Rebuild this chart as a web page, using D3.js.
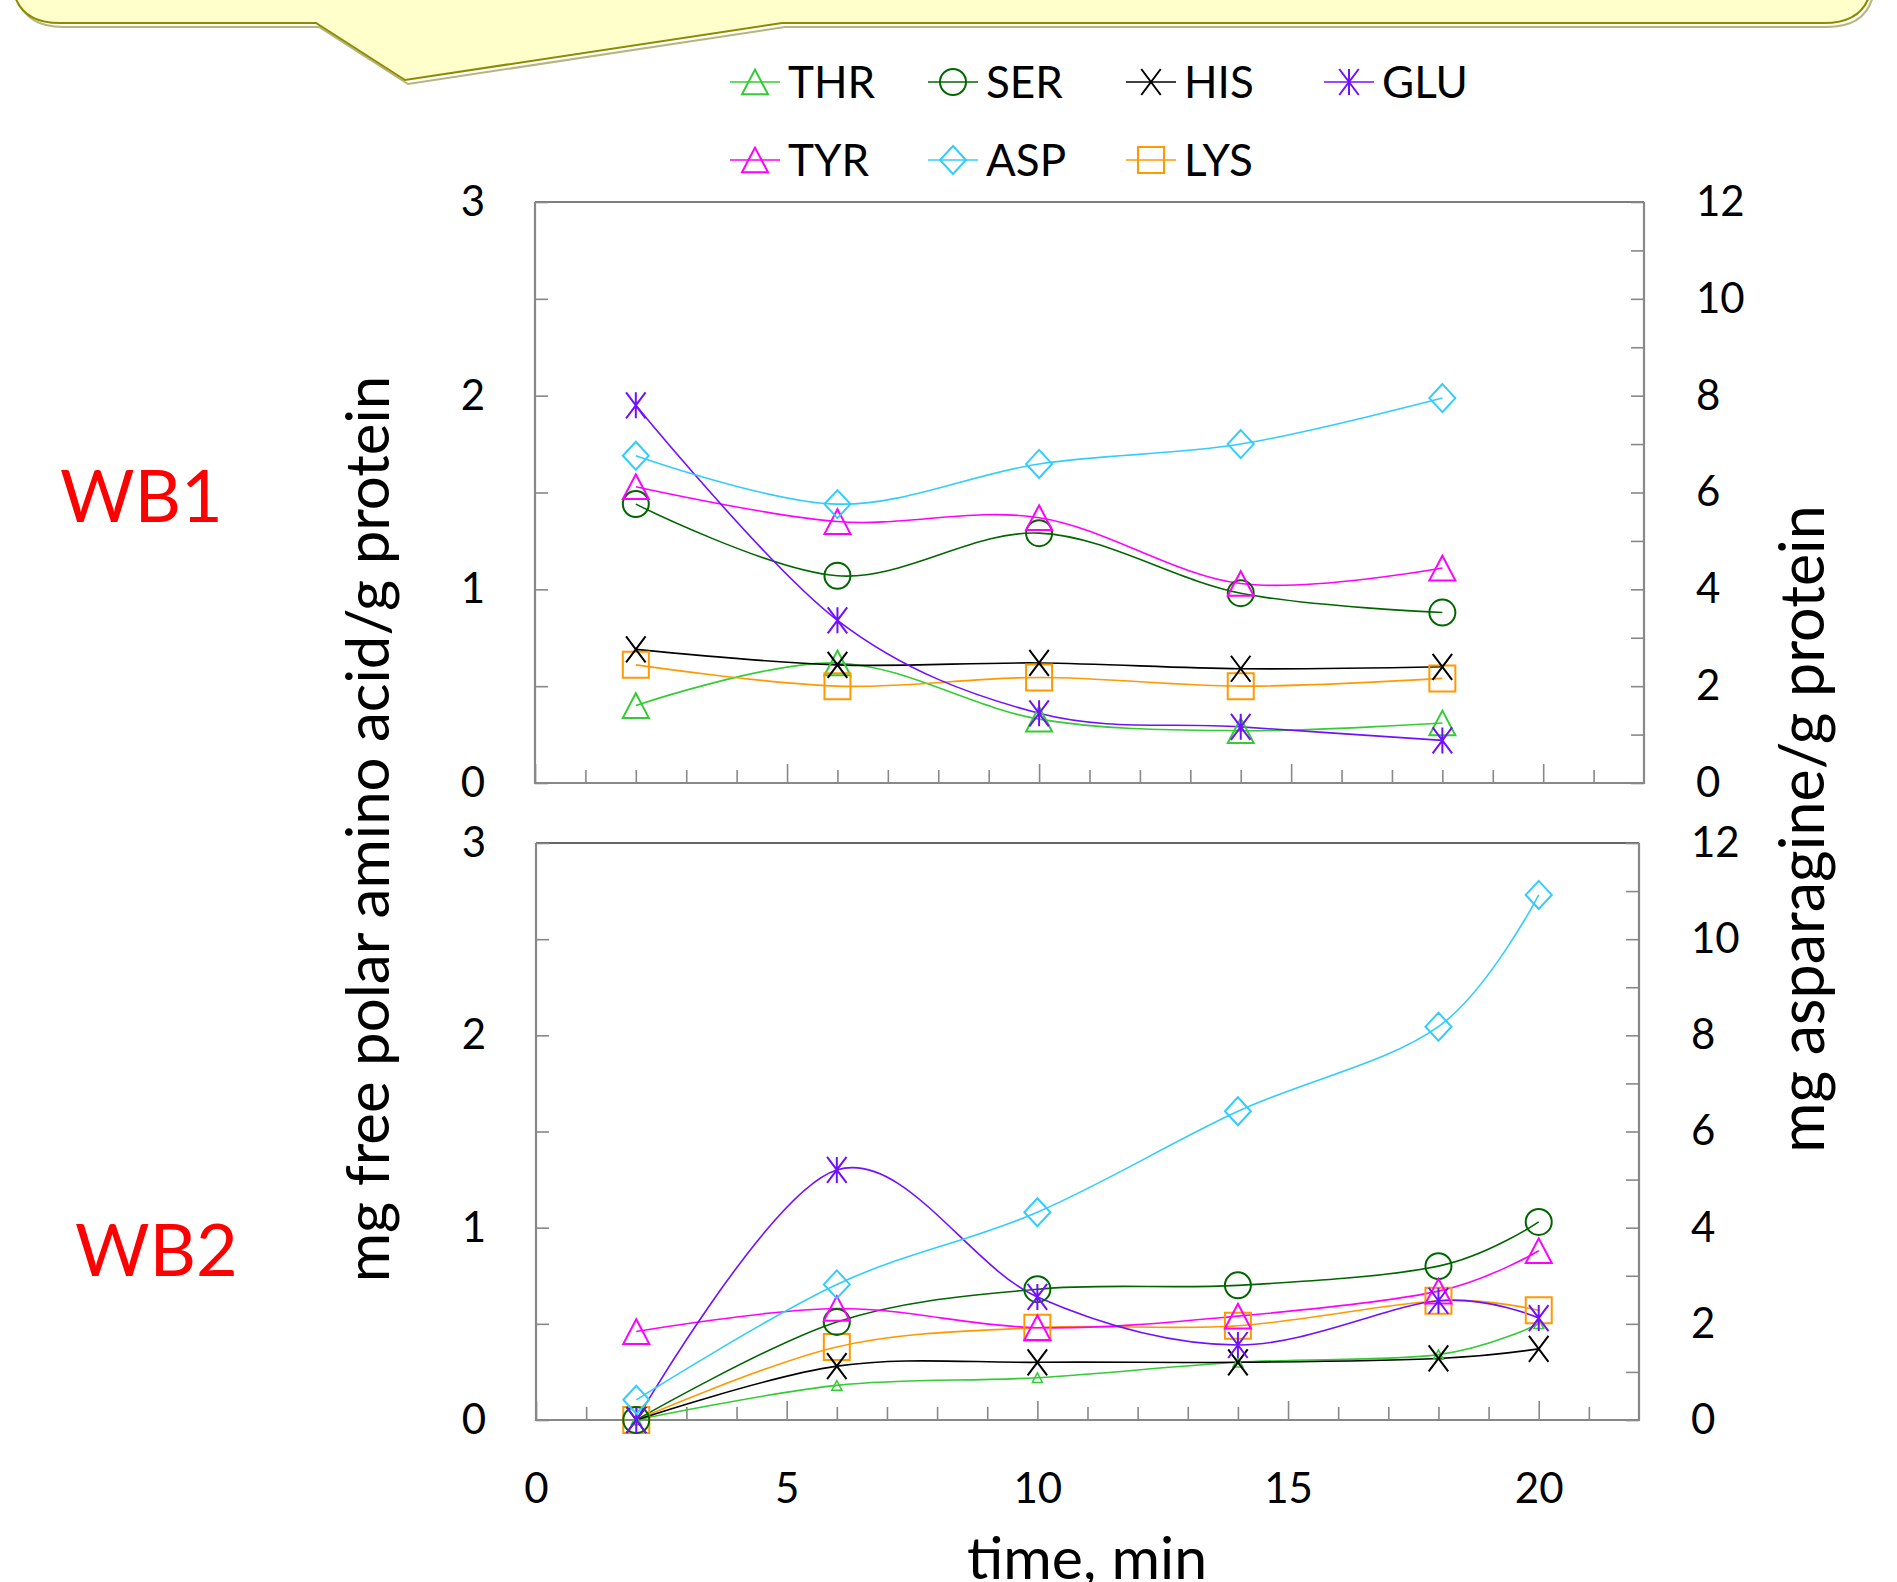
<!DOCTYPE html>
<html>
<head>
<meta charset="utf-8">
<script src="https://cdn.jsdelivr.net/npm/d3@7"></script>
<style>
  body { margin: 0; background: #fff; }
  svg text { font-family: Lato, 'Open Sans', sans-serif; }
</style>
</head>
<body>
<svg id="canvas"></svg>
<script>
var width = 1897,
  height = 1582;

// DATA
var seriesNames = ['THR', 'SER', 'HIS', 'GLU', 'TYR', 'ASP', 'LYS'];
var timesWB1 = [2, 6, 10, 14, 18];
var timesWB2 = [2, 6, 10, 14, 18, 20];

// WB1, mg free amino acid / g protein (left axis)
var wb1Thr = [0.40, 0.62, 0.33, 0.27, 0.31];
var wb1Ser = [1.44, 1.07, 1.29, 0.98, 0.88];
var wb1His = [0.69, 0.61, 0.62, 0.59, 0.60];
var wb1Glu = [1.95, 0.84, 0.36, 0.29, 0.22];
var wb1Tyr = [1.53, 1.35, 1.37, 1.03, 1.11];
var wb1Lys = [0.61, 0.50, 0.545, 0.50, 0.54];
// WB1, mg asparagine / g protein (right axis)
var wb1Asp = [6.76, 5.76, 6.59, 7.0, 7.95];

// WB2
var wb2Thr = [0, 0.18, 0.22, 0.30, 0.34, 0.50];
var wb2Ser = [0, 0.51, 0.68, 0.70, 0.80, 1.03];
var wb2His = [0, 0.28, 0.30, 0.30, 0.32, 0.37];
var wb2Glu = [0, 1.30, 0.64, 0.39, 0.62, 0.53];
var wb2Tyr = [0.46, 0.58, 0.48, 0.54, 0.67, 0.88];
var wb2Lys = [0, 0.38, 0.48, 0.49, 0.62, 0.57];
var wb2Asp = [0.42, 2.82, 4.32, 6.42, 8.18, 10.92];

var xTickLabels = [0, 5, 10, 15, 20];
var leftTickLabels = [0, 1, 2, 3];
var rightTickLabels = [0, 2, 4, 6, 8, 10, 12];

var colors = {
  THR: '#33cc33', SER: '#006600', HIS: '#000000', GLU: '#7010ff',
  TYR: '#ff00ff', ASP: '#33ccff', LYS: '#ff9900'
};
var shapes = {
  THR: 'triangle', SER: 'circle', HIS: 'cross', GLU: 'star',
  TYR: 'triangle', ASP: 'diamond', LYS: 'square'
};

function draw() {
  var canvas, panels, legendRows;

  canvas = d3.select('#canvas')
    .attr('width', width)
    .attr('height', height);

  // CALLOUT BOX
  canvas.append('path')
    .attr('d', 'M14 -60 V-24 Q14 25 62 25 H318 L407 82 L784 25 H1826 Q1874 25 1874 -24 V-60 Z')
    .attr('transform', 'translate(1,2)')
    .style('fill', 'none')
    .style('stroke', '#6b6b00')
    .style('stroke-width', 2)
    .style('opacity', 0.5);
  canvas.append('path')
    .attr('d', 'M12 -60 V-24 Q12 23 60 23 H316 L405 80 L782 23 H1824 Q1872 23 1872 -24 V-60 Z')
    .style('fill', '#ffffcc')
    .style('stroke', '#8c8c00')
    .style('stroke-width', 2);

  panels = [
    {
      left: 535, right: 1644, top: 202, bottom: 783, times: timesWB1, xLabels: false,
      values: {THR: wb1Thr, SER: wb1Ser, HIS: wb1His, GLU: wb1Glu, TYR: wb1Tyr, ASP: wb1Asp, LYS: wb1Lys},
      markerSize: {}
    },
    {
      left: 536, right: 1639, top: 843, bottom: 1420, times: timesWB2, xLabels: true,
      values: {THR: wb2Thr, SER: wb2Ser, HIS: wb2His, GLU: wb2Glu, TYR: wb2Tyr, ASP: wb2Asp, LYS: wb2Lys},
      markerSize: {THR: 5}
    }
  ];

  panels.forEach(function(p, pi) {
    var x, yL, yR, g, line, order;

    x = d3.scaleLinear().domain([0, 22]).range([p.left, p.right]);
    yL = d3.scaleLinear().domain([0, 3]).range([p.bottom, p.top]);
    yR = d3.scaleLinear().domain([0, 12]).range([p.bottom, p.top]);

    g = canvas.append('g').attr('class', 'panel');

    // FRAME
    g.append('line')
      .attr('x1', p.left).attr('x2', p.right)
      .attr('y1', p.top).attr('y2', p.top)
      .style('stroke', pi === 0 ? '#000' : '#666')
      .style('stroke-width', pi === 0 ? 1.2 : 2);
    g.append('path')
      .attr('d', 'M' + p.left + ' ' + p.top + ' V' + p.bottom + ' H' + p.right + ' V' + p.top)
      .style('fill', 'none')
      .style('stroke', '#888')
      .style('stroke-width', 2.2);

    // LEFT AXIS
    g.append('g')
      .attr('transform', 'translate(' + p.left + ',0)')
      .call(d3.axisLeft(yL)
        .tickValues(d3.range(0, 3.01, 0.5))
        .tickSize(-13)
        .tickPadding(50)
        .tickFormat(function(d) { return leftTickLabels.indexOf(d) >= 0 ? d : ''; }))
      .call(styleAxis);

    // RIGHT AXIS
    g.append('g')
      .attr('transform', 'translate(' + p.right + ',0)')
      .call(d3.axisRight(yR)
        .tickValues(d3.range(0, 13, 1))
        .tickSize(-13)
        .tickPadding(52)
        .tickFormat(function(d) { return rightTickLabels.indexOf(d) >= 0 ? d : ''; }))
      .call(styleAxis);

    // BOTTOM AXIS (minor + major)
    g.append('g')
      .attr('transform', 'translate(0,' + p.bottom + ')')
      .call(d3.axisBottom(x)
        .tickValues(d3.range(1, 22, 1).filter(function(d) { return d % 5 !== 0; }))
        .tickSize(-13)
        .tickFormat(''))
      .call(styleAxis);
    g.append('g')
      .attr('transform', 'translate(0,' + p.bottom + ')')
      .call(d3.axisBottom(x)
        .tickValues(xTickLabels)
        .tickSize(-19)
        .tickPadding(53)
        .tickFormat(function(d) { return p.xLabels ? d : ''; }))
      .call(styleAxis);

    // LINES
    line = d3.line().curve(d3.curveCatmullRom.alpha(0));
    order = ['THR', 'LYS', 'HIS', 'SER', 'TYR', 'GLU', 'ASP'];
    order.forEach(function(name) {
      var y = name === 'ASP' ? yR : yL,
          pts = p.values[name].map(function(v, i) { return [x(p.times[i]), y(v)]; });
      g.append('path')
        .attr('d', line(pts))
        .style('fill', 'none')
        .style('stroke', colors[name])
        .style('stroke-width', 1.6);
    });

    // MARKERS
    order.forEach(function(name) {
      var y = name === 'ASP' ? yR : yL,
          size = p.markerSize[name] || 13;
      g.selectAll(null)
        .data(p.values[name])
        .enter()
        .append('path')
        .attr('transform', function(d, i) { return 'translate(' + x(p.times[i]) + ',' + y(d) + ')'; })
        .attr('d', markerPath(shapes[name], size))
        .style('fill', 'none')
        .style('stroke', colors[name])
        .style('stroke-width', size < 8 ? 1.5 : 2);
    });
  });

  // LEGEND
  legendRows = [
    {y: 82, names: ['THR', 'SER', 'HIS', 'GLU']},
    {y: 160, names: ['TYR', 'ASP', 'LYS']}
  ];
  legendRows.forEach(function(row) {
    var item = canvas.selectAll(null)
      .data(row.names)
      .enter()
      .append('g')
      .attr('transform', function(d, i) { return 'translate(' + (755 + i * 198) + ',' + row.y + ')'; });

    item.append('line')
      .attr('x1', -25).attr('x2', 25)
      .style('stroke', function(d) { return colors[d]; })
      .style('stroke-width', 1.6);
    item.append('path')
      .attr('d', function(d) { return markerPath(shapes[d], 13); })
      .style('fill', 'none')
      .style('stroke', function(d) { return colors[d]; })
      .style('stroke-width', 2);
    item.append('text')
      .attr('x', 33)
      .attr('y', 16)
      .style('font-size', '44px')
      .style('fill', '#000')
      .text(function(d) { return d; });
  });

  // AXIS TITLES
  canvas.append('text')
    .attr('transform', 'translate(389,829) rotate(-90)')
    .attr('text-anchor', 'middle')
    .style('font-size', '60px')
    .text('mg free polar amino acid/g protein');

  canvas.append('text')
    .attr('transform', 'translate(1824,829) rotate(-90)')
    .attr('text-anchor', 'middle')
    .style('font-size', '61px')
    .text('mg asparagine/g protein');

  canvas.append('text')
    .attr('x', 1087)
    .attr('y', 1579)
    .attr('text-anchor', 'middle')
    .style('font-size', '59px')
    .text('time, min');

  // PANEL LABELS
  canvas.append('text')
    .attr('x', 60).attr('y', 522)
    .style('font-size', '72px')
    .style('fill', '#ff0000')
    .text('WB1');
  canvas.append('text')
    .attr('x', 75).attr('y', 1276)
    .style('font-size', '72px')
    .style('fill', '#ff0000')
    .text('WB2');
}

function styleAxis(sel) {
  sel.select('.domain').remove();
  sel.selectAll('.tick line')
    .style('stroke', '#888')
    .style('stroke-width', 1.6);
  sel.selectAll('.tick text')
    .style('font-size', '42px')
    .style('font-family', "Lato, 'Open Sans', sans-serif")
    .style('fill', '#000');
}

function markerPath(shape, r) {
  var h = r * 0.95;
  switch (shape) {
    case 'triangle':
      return 'M0 ' + (-h) + ' L' + r + ' ' + h + ' L' + (-r) + ' ' + h + ' Z';
    case 'circle':
      return 'M' + (-r) + ' 0 A' + r + ' ' + r + ' 0 1 0 ' + r + ' 0 A' + r + ' ' + r + ' 0 1 0 ' + (-r) + ' 0 Z';
    case 'cross':
      return 'M' + (-r * 0.75) + ' ' + (-r) + ' L' + (r * 0.75) + ' ' + r +
             ' M' + (r * 0.75) + ' ' + (-r) + ' L' + (-r * 0.75) + ' ' + r;
    case 'star':
      return 'M' + (-r * 0.75) + ' ' + (-r) + ' L' + (r * 0.75) + ' ' + r +
             ' M' + (r * 0.75) + ' ' + (-r) + ' L' + (-r * 0.75) + ' ' + r +
             ' M0 ' + (-r) + ' L0 ' + r;
    case 'diamond':
      return 'M0 ' + (-r - 1) + ' L' + r + ' 0 L0 ' + (r + 1) + ' L' + (-r) + ' 0 Z';
    case 'square':
      return 'M' + (-r) + ' ' + (-r) + ' H' + r + ' V' + r + ' H' + (-r) + ' Z';
  }
}

window.onload = draw;
</script>
</body>
</html>
